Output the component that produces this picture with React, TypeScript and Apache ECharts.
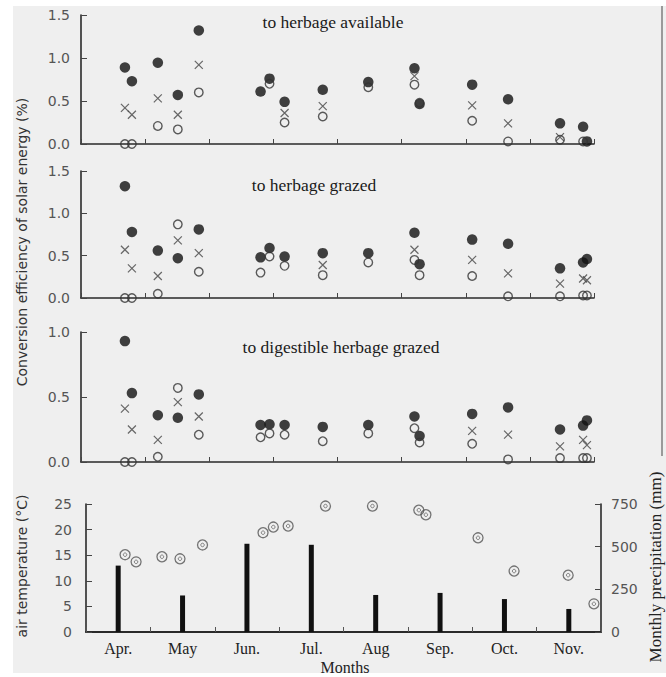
import React, { useEffect, useRef } from "react";
import * as echarts from "echarts";

// x positions in months since 1 April (0 = Apr 1, 8 = Dec 1)
const dates = [0.685, 0.794, 1.198, 1.51, 1.837, 2.8, 2.94, 3.175, 3.77, 4.48, 5.2, 5.28, 6.1, 6.66, 7.47, 7.83, 7.89];

// to herbage available
const availFilled = [0.89, 0.73, 0.945, 0.57, 1.32, 0.61, 0.76, 0.49, 0.63, 0.72, 0.88, 0.465, 0.69, 0.52, 0.24, 0.2, 0.03];
const availCross = [0.42, 0.34, 0.53, 0.34, 0.92, null, null, 0.36, 0.44, null, 0.79, null, 0.45, 0.24, 0.08, null, null];
const availOpen = [0.0, 0.0, 0.21, 0.17, 0.6, null, 0.7, 0.25, 0.32, 0.66, 0.69, 0.48, 0.27, 0.03, 0.05, 0.03, null];

// to herbage grazed
const grazedFilled = [1.32, 0.78, 0.56, 0.47, 0.81, 0.48, 0.59, 0.49, 0.53, 0.53, 0.77, 0.4, 0.69, 0.64, 0.35, 0.42, 0.46];
const grazedCross = [0.57, 0.35, 0.26, 0.68, 0.53, null, null, null, 0.39, null, 0.57, null, 0.45, 0.29, 0.17, 0.23, 0.21];
const grazedOpen = [0.0, 0.0, 0.05, 0.87, 0.31, 0.3, 0.49, 0.38, 0.27, 0.42, 0.45, 0.27, 0.26, 0.02, 0.02, 0.03, 0.03];

// to digestible herbage grazed
const digestFilled = [0.93, 0.53, 0.36, 0.34, 0.52, 0.285, 0.29, 0.285, 0.27, 0.285, 0.35, 0.2, 0.37, 0.42, 0.25, 0.28, 0.32];
const digestCross = [0.41, 0.25, 0.17, 0.46, 0.35, null, null, null, null, null, null, null, 0.24, 0.21, 0.12, 0.17, 0.13];
const digestOpen = [0.0, 0.0, 0.04, 0.57, 0.21, 0.19, 0.22, 0.21, 0.16, 0.22, 0.26, 0.15, 0.14, 0.02, 0.03, 0.03, 0.03];

// bottom panel
const months = ["Apr.", "May", "Jun.", "Jul.", "Aug", "Sep.", "Oct.", "Nov."];
const precipitation = [389, 214, 517, 511, 217, 229, 193, 135];
const tempDates = [0.607, 0.778, 1.18, 1.46, 1.81, 2.75, 2.91, 3.14, 3.72, 4.45, 5.17, 5.28, 6.09, 6.65, 7.49, 7.89];
const airTemp = [15.1, 13.7, 14.7, 14.3, 17.0, 19.4, 20.5, 20.7, 24.6, 24.6, 23.8, 22.9, 18.4, 11.9, 11.1, 5.5];

const convTicks = [0, 0.5, 1.0, 1.5];
const tempTicks = [0, 5, 10, 15, 20, 25];
const precTicks = [0, 250, 500, 750];

const pair = (xs: number[], ys: (number | null)[]) =>
  ys.map((v, i) => (v == null ? null : [xs[i], v])).filter((p) => p !== null);

const SERIF = "Liberation Serif";
const SANS = "DejaVu Sans";

export default function App() {
  const ref = useRef<HTMLDivElement>(null);

  useEffect(() => {
    if (!ref.current) return;
    const chart = echarts.init(ref.current, undefined, { renderer: "svg" });

    const axisLine = { show: true, lineStyle: { color: "#2a2a2a", width: 1.6 } };
    const yLabel = { color: "#555", fontFamily: SANS, fontSize: 14, margin: 11 };

    const topX = (gi: number) => ({
      gridIndex: gi,
      type: "value",
      min: 0,
      max: 8,
      interval: 1,
      axisLine,
      axisTick: { show: true, inside: true, length: 5, lineStyle: { color: "#444", width: 1 } },
      axisLabel: { show: false },
      splitLine: { show: false },
    });
    const topY = (gi: number, max: number) => ({
      gridIndex: gi,
      type: "value",
      min: convTicks[0],
      max,
      interval: 0.5,
      axisLine,
      axisTick: { show: true, inside: true, length: 6, lineStyle: { color: "#444" } },
      axisLabel: { ...yLabel, formatter: (v: number) => v.toFixed(1) },
      splitLine: { show: false },
    });

    const filled = (gi: number, ys: (number | null)[]) => ({
      type: "scatter",
      xAxisIndex: gi,
      yAxisIndex: gi,
      symbol: "circle",
      symbolSize: 10.5,
      itemStyle: { color: "#111" },
      data: pair(dates, ys),
      z: 3,
    });
    const cross = (gi: number, ys: (number | null)[]) => ({
      type: "scatter",
      xAxisIndex: gi,
      yAxisIndex: gi,
      symbol: "path://M0,0L10,10M10,0L0,10",
      symbolSize: 8,
      itemStyle: { color: "transparent", borderColor: "#444", borderWidth: 1.2 },
      data: pair(dates, ys),
      z: 4,
    });
    const open = (gi: number, ys: (number | null)[]) => ({
      type: "scatter",
      xAxisIndex: gi,
      yAxisIndex: gi,
      symbol: "circle",
      symbolSize: 8.5,
      itemStyle: { color: "transparent", borderColor: "#333", borderWidth: 1.4 },
      data: pair(dates, ys),
      z: 5,
    });

    const panelTitle = (text: string, x: number, y: number) => ({
      type: "text",
      x,
      y,
      style: {
        text,
        fill: "#1a1a1a",
        font: `17.5px "${SERIF}"`,
        align: "center",
        verticalAlign: "middle",
      },
    });

    chart.setOption({
      animation: false,
      backgroundColor: "transparent",
      grid: [
        { left: 81, right: 72, top: 15, height: 129 },
        { left: 81, right: 72, top: 171, height: 127 },
        { left: 81, right: 72, top: 332, height: 130 },
        { left: 86, right: 65, top: 504, height: 128 },
      ],
      xAxis: [
        topX(0),
        topX(1),
        topX(2),
        {
          gridIndex: 3,
          type: "category",
          data: months,
          boundaryGap: true,
          axisLine: { show: true, lineStyle: { color: "#2a2a2a", width: 2 } },
          axisTick: { show: true, inside: true, length: 5, lineStyle: { color: "#555" } },
          axisLabel: { color: "#222", fontFamily: SERIF, fontSize: 16, margin: 8 },
          splitLine: { show: false },
        },
        { gridIndex: 3, type: "value", min: 0, max: 8, show: false },
      ],
      yAxis: [
        topY(0, convTicks[3]),
        topY(1, convTicks[3]),
        topY(2, convTicks[2]),
        {
          gridIndex: 3,
          type: "value",
          min: tempTicks[0],
          max: tempTicks[tempTicks.length - 1],
          interval: 5,
          axisLine,
          axisTick: { show: true, inside: true, length: 6, lineStyle: { color: "#444" } },
          axisLabel: { ...yLabel, margin: 14 },
          splitLine: { show: false },
        },
        {
          gridIndex: 3,
          type: "value",
          position: "right",
          min: precTicks[0],
          max: precTicks[precTicks.length - 1],
          interval: 250,
          axisLine,
          axisTick: { show: true, inside: true, length: 6, lineStyle: { color: "#444" } },
          axisLabel: { ...yLabel, margin: 10 },
          splitLine: { show: false },
        },
      ],
      series: [
        filled(0, availFilled),
        cross(0, availCross),
        open(0, availOpen),
        filled(1, grazedFilled),
        cross(1, grazedCross),
        open(1, grazedOpen),
        filled(2, digestFilled),
        cross(2, digestCross),
        open(2, digestOpen),
        {
          type: "bar",
          xAxisIndex: 3,
          yAxisIndex: 4,
          barWidth: 5,
          itemStyle: { color: "#111" },
          data: precipitation,
        },
        {
          type: "scatter",
          xAxisIndex: 4,
          yAxisIndex: 3,
          symbol: "circle",
          symbolSize: 10,
          itemStyle: { color: "transparent", borderColor: "#555", borderWidth: 1.3 },
          data: pair(tempDates, airTemp),
          z: 5,
        },
        {
          type: "scatter",
          xAxisIndex: 4,
          yAxisIndex: 3,
          symbol: "circle",
          symbolSize: 3.5,
          itemStyle: { color: "transparent", borderColor: "#666", borderWidth: 1 },
          data: pair(tempDates, airTemp),
          z: 5,
        },
      ],
      graphic: [
        panelTitle("to herbage available", 333, 22),
        panelTitle("to herbage grazed", 314, 185),
        panelTitle("to digestible herbage grazed", 341, 347),
        {
          type: "text",
          x: 22,
          y: 242,
          rotation: Math.PI / 2,
          style: {
            text: "Conversion efficiency of solar energy (%)",
            fill: "#333",
            font: `14px "${SANS}"`,
            align: "center",
            verticalAlign: "middle",
          },
        },
        {
          type: "text",
          x: 22,
          y: 566,
          rotation: Math.PI / 2,
          style: {
            text: "air temperature (°C)",
            fill: "#333",
            font: `14px "${SANS}"`,
            align: "center",
            verticalAlign: "middle",
          },
        },
        {
          type: "text",
          x: 655,
          y: 567,
          rotation: Math.PI / 2,
          style: {
            text: "Monthly precipitation (mm)",
            fill: "#222",
            font: `17px "${SERIF}"`,
            align: "center",
            verticalAlign: "middle",
          },
        },
        {
          type: "text",
          x: 345,
          y: 667,
          style: {
            text: "Months",
            fill: "#222",
            font: `16px "${SERIF}"`,
            align: "center",
            verticalAlign: "middle",
          },
        },
      ],
    });

    return () => chart.dispose();
  }, []);

  return (
    <div style={{ position: "fixed", left: 0, top: 0, width: 666, height: 677, background: "#fff" }}>
      <div style={{ position: "absolute", left: 13, top: 6, width: 653, height: 667, background: "#efefef" }} />
      <div style={{ position: "absolute", left: 661, top: 6, width: 2, height: 450, background: "#9a9a9a" }} />
      <div ref={ref} style={{ position: "absolute", left: 0, top: 0, width: 666, height: 677 }} />
    </div>
  );
}
